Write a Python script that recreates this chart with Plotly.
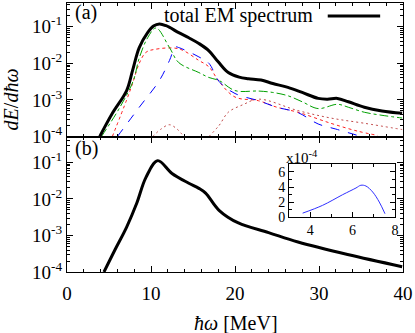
import plotly.graph_objects as go

# panel (a): total EM spectrum and its components
e_total = [3.9, 5.4, 7.1, 7.8, 8.6, 9.6, 10.3, 11.0, 11.8, 13.3, 14.5, 15.7, 16.9, 18.0, 19.2,
           20.5, 21.6, 23.1, 24.5, 26.3, 28.0, 29.9, 31.0, 32.2, 33.5, 35.4, 37.5, 39.9]
s_total = [1.0e-4, 4.3e-4, 1.8e-3, 6.3e-3, 2.7e-2, 6.9e-2, 1.05e-1, 1.2e-1, 1.07e-1, 6.9e-2, 5.0e-2,
           3.5e-2, 2.2e-2, 1.1e-2, 5.6e-3, 4.2e-3, 3.8e-3, 3.5e-3, 2.8e-3, 2.2e-3, 1.6e-3, 1.1e-3,
           1.05e-3, 1.1e-3, 8.9e-4, 6.3e-4, 5.0e-4, 4.3e-4]

e_green = [4.1, 6.3, 7.9, 8.6, 9.6, 10.6, 12.2, 13.3, 15.7, 16.9, 18.1, 20.0, 22.8, 24.5, 26.3,
           28.0, 29.9, 32.2, 33.5, 35.4, 37.5, 39.9]
s_green = [1.0e-4, 6.3e-4, 3.4e-3, 1.4e-2, 5.0e-2, 9.3e-2, 2.7e-2, 1.05e-2, 5.6e-3, 4.1e-3, 3.4e-3,
           1.8e-3, 1.75e-3, 1.6e-3, 1.3e-3, 8.9e-4, 5.8e-4, 7.6e-4, 6.3e-4, 4.6e-4, 3.8e-4, 3.2e-4]

e_red = [5.4, 7.1, 7.8, 8.6, 9.4, 10.4, 13.3, 15.7, 16.9, 18.1, 20.0, 22.8, 25.0, 27.5, 31.4, 34.6, 37.0]
s_red = [1.0e-4, 1.0e-3, 2.8e-3, 1.0e-2, 2.0e-2, 2.4e-2, 2.5e-2, 1.2e-2, 8.0e-3, 3.2e-3, 1.2e-3,
         9.5e-4, 6.3e-4, 4.6e-4, 2.3e-4, 1.4e-4, 1.07e-4]

e_blue = [6.0, 8.6, 11.0, 12.2, 12.9, 13.3, 15.7, 16.9, 18.1, 20.0, 22.8, 25.0, 27.5, 29.9, 32.0, 34.6]
s_blue = [1.0e-4, 6.3e-4, 3.4e-3, 1.2e-2, 2.8e-2, 2.7e-2, 1.5e-2, 1.0e-2, 3.2e-3, 1.5e-3, 9.5e-4,
          6.3e-4, 4.5e-4, 2.2e-4, 1.6e-4, 1.07e-4]

e_brown1 = [10.2, 11.2, 12.2, 13.1, 13.9]
s_brown1 = [1.0e-4, 1.6e-4, 2.1e-4, 1.6e-4, 1.0e-4]
e_brown2 = [16.9, 18.1, 19.2, 21.0, 22.8, 27.5, 31.4, 35.4, 39.9]
s_brown2 = [1.0e-4, 2.0e-4, 4.6e-4, 7.5e-4, 1.05e-3, 5.1e-4, 3.2e-4, 2.3e-4, 1.55e-4]

# panel (b): total spectrum
e_b = [4.4, 5.7, 7.1, 8.3, 9.4, 10.8, 12.5, 14.5, 15.7, 16.5, 18.1, 20.4, 24.0, 27.5, 33.4, 39.9]
s_b = [1.0e-4, 4.0e-4, 1.7e-3, 7.6e-3, 3.9e-2, 1.12e-1, 5.0e-2, 2.7e-2, 1.95e-2, 1.45e-2, 4.9e-3,
       2.2e-3, 1.2e-3, 6.6e-4, 3.0e-4, 1.4e-4]

# inset (units of 1e-4)
e_in = [3.64, 4.58, 5.53, 6.16, 6.39, 6.63, 6.95, 7.26, 7.53]
s_in = [0.53, 1.56, 2.98, 3.87, 4.23, 4.13, 3.33, 2.0, 0.45]

FONT = "Liberation Serif, Times New Roman, Times, serif"

fig = go.Figure()
fig.add_trace(go.Scatter(x=e_brown1, y=s_brown1, mode="lines", line=dict(color="#c04848", width=1, dash="2px,3px", shape="spline"), xaxis="x", yaxis="y"))
fig.add_trace(go.Scatter(x=e_brown2, y=s_brown2, mode="lines", line=dict(color="#c04848", width=1, dash="2px,3px", shape="spline"), xaxis="x", yaxis="y"))
fig.add_trace(go.Scatter(x=e_red, y=s_red, mode="lines", line=dict(color="#ff2020", width=1, dash="dot", shape="spline"), xaxis="x", yaxis="y"))
fig.add_trace(go.Scatter(x=e_blue, y=s_blue, mode="lines", line=dict(color="#0000ff", width=1, dash="dash", shape="spline"), xaxis="x", yaxis="y"))
fig.add_trace(go.Scatter(x=e_green, y=s_green, mode="lines", line=dict(color="#00a000", width=1, dash="dashdot", shape="spline"), xaxis="x", yaxis="y"))
fig.add_trace(go.Scatter(x=e_total, y=s_total, mode="lines", line=dict(color="black", width=3, shape="spline"), xaxis="x", yaxis="y"))
fig.add_trace(go.Scatter(x=e_b, y=s_b, mode="lines", line=dict(color="black", width=3, shape="spline"), xaxis="x2", yaxis="y2"))
fig.add_trace(go.Scatter(x=e_in, y=s_in, mode="lines", line=dict(color="#3030ff", width=1, shape="spline"), xaxis="x3", yaxis="y3"))

major = [1e-4, 1e-3, 1e-2, 1e-1]
major_text = ["10<sup>-4</sup>", "10<sup>-3</sup>", "10<sup>-2</sup>", "10<sup>-1</sup>"]
minor_vals = [m * 10 ** k for k in range(-4, 0) for m in range(2, 10)]

common = dict(showline=True, linecolor="black", linewidth=1, mirror="ticks", ticks="inside",
              tickcolor="black", showgrid=False, zeroline=False,
              tickfont=dict(family=FONT, size=19, color="black"))

xax = dict(common, range=[0, 40], tickmode="linear", tick0=0, dtick=10, ticklen=6,
           minor=dict(ticks="inside", dtick=2, ticklen=3, tickcolor="black"))
yax = dict(common, type="log", tickmode="array", tickvals=major, ticktext=major_text, ticklen=6,
           minor=dict(ticks="inside", tickmode="array", tickvals=minor_vals, ticklen=3, tickcolor="black"))

inset_font = dict(family=FONT, size=14, color="black")

fig.update_layout(
    width=415, height=333,
    margin=dict(l=67, r=9, t=2, b=61),
    paper_bgcolor="white", plot_bgcolor="white",
    showlegend=False,
    xaxis=dict(xax, domain=[0, 1], anchor="y", showticklabels=False),
    yaxis=dict(yax, domain=[0.5037, 1], anchor="x", range=[-4, -0.35]),
    xaxis2=dict(xax, domain=[0, 1], anchor="y2", ticklabelstandoff=4, ticklabeloverflow="allow"),
    yaxis2=dict(yax, domain=[0, 0.5037], anchor="x2", range=[-4, -0.29]),
    xaxis3=dict(common, domain=[0.661, 0.976], anchor="y3", range=[3, 8], dtick=2, tick0=0, ticklen=5,
                tickfont=inset_font,
                minor=dict(ticks="inside", dtick=1, ticklen=3, tickcolor="black")),
    yaxis3=dict(common, domain=[0.204, 0.4], anchor="x3", range=[0, 7.0], dtick=2, tick0=0, ticklen=5,
                tickfont=inset_font,
                minor=dict(ticks="inside", dtick=1, ticklen=3, tickcolor="black")),
)

ann = [
    dict(text="(a)", x=0.018, y=0.963, xanchor="left", yanchor="middle", font=dict(size=20)),
    dict(text="(b)", x=0.018, y=0.459, xanchor="left", yanchor="middle", font=dict(size=20)),
    dict(text="total EM spectrum", x=0.737, y=0.952, xanchor="right", yanchor="middle", font=dict(size=20)),
    dict(text="x10<sup>-4</sup>", x=0.646, y=0.428, xanchor="left", yanchor="middle", font=dict(size=15)),
    dict(text="<i>dE</i>/<i>dħω</i>", x=-0.168, y=0.64, xanchor="center", yanchor="middle",
         textangle=-90, font=dict(size=20)),
    dict(text="<i>ħω</i> [MeV]", x=0.5015, y=-0.19, xanchor="center", yanchor="middle", font=dict(size=20)),
]
for a in ann:
    a["font"] = dict(a["font"], family=FONT, color="black")
    fig.add_annotation(xref="paper", yref="paper", showarrow=False, **a)

fig.add_shape(type="line", xref="paper", yref="paper", x0=0.776, x1=0.932, y0=0.952, y1=0.952,
              line=dict(color="black", width=3))

fig.write_html("out.html", config={"displayModeBar": False},
               post_script="document.body.style.margin='0';")
